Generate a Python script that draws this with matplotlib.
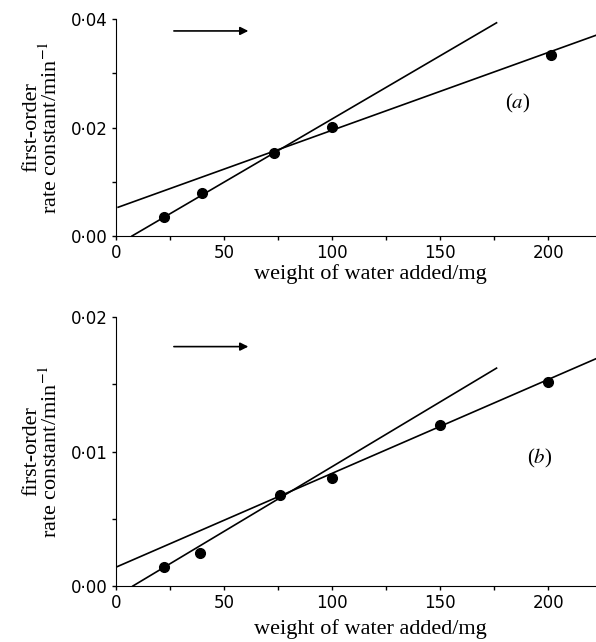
import matplotlib
matplotlib.use('Agg')
import matplotlib.pyplot as plt
from matplotlib.ticker import FixedLocator, FuncFormatter

# panel (a)
a_water = [22, 40, 73, 100, 201]
a_rate = [0.0035, 0.0079, 0.0153, 0.0201, 0.0334]
a_steep_x = [7.4, 176]
a_steep_y = [0.0, 0.0393]
a_flat_x = [1, 222]
a_flat_y = [0.0053, 0.0370]

# panel (b)
b_water = [22, 39, 76, 100, 150, 200]
b_rate = [0.0014, 0.00245, 0.0068, 0.0080, 0.0120, 0.0152]
b_steep_x = [7.8, 176]
b_steep_y = [0.0, 0.0162]
b_flat_x = [0, 222]
b_flat_y = [0.0014, 0.0169]

x_ticks = [0, 50, 100, 150, 200]
a_yticks = [0.00, 0.02, 0.04]
b_yticks = [0.00, 0.01, 0.02]

SERIF = 'Liberation Serif'
SANS = 'DejaVu Sans'


def dot_fmt(v, _):
    if v == 0:
        return '0\u00b700'
    s = f'{v:.2f}'.replace('.', '\u00b7')
    return s[:-1] if s.endswith('0') else s


def panel(ax, xs, ys, sx, sy, fx, fy, yticks, ymax, yminor, arrow_y, label, label_xy, xpad):
    ax.plot(sx, sy, color='black', lw=1.2)
    ax.plot(fx, fy, color='black', lw=1.2)
    ax.plot(xs, ys, 'o', color='black', ms=7)
    ax.set_xlim(0, 222)
    ax.set_ylim(0, ymax)
    ax.spines['top'].set_visible(False)
    ax.spines['right'].set_visible(False)
    ax.xaxis.set_major_locator(FixedLocator(x_ticks))
    ax.xaxis.set_minor_locator(FixedLocator([25, 75, 125, 175]))
    ax.yaxis.set_major_locator(FixedLocator(yticks))
    ax.yaxis.set_minor_locator(FixedLocator(yminor))
    ax.yaxis.set_major_formatter(FuncFormatter(dot_fmt))
    ax.tick_params(which='both', direction='out', length=3, width=1)
    ax.tick_params(labelsize=12, pad=3)
    for t in ax.get_xticklabels() + ax.get_yticklabels():
        t.set_family(SANS)
    ax.set_xlabel('weight of water added/mg', family=SERIF, fontsize=16, labelpad=xpad)
    ax.xaxis.label.set_x(0.53)
    ax.set_ylabel('first-order\nrate constant/min$^{-1}$', family=SERIF, fontsize=16,
                  linespacing=0.95, labelpad=6)
    ax.annotate('', xy=(62.5, arrow_y), xytext=(25.5, arrow_y),
                arrowprops=dict(arrowstyle='-|>', color='black', lw=1.2,
                                mutation_scale=12))
    ax.text(label_xy[0], label_xy[1], label, family=SERIF, fontsize=15,
            ha='center', va='center')


plt.rcParams['mathtext.fontset'] = 'stix'
fig = plt.figure(figsize=(5.96, 6.42), dpi=100)
ax1 = fig.add_axes([0.1946, 0.6324, 0.8054, 0.338])
ax2 = fig.add_axes([0.1946, 0.0872, 0.8054, 0.419])

panel(ax1, a_water, a_rate, a_steep_x, a_steep_y, a_flat_x, a_flat_y,
      a_yticks, 0.04, [0.01, 0.03], 0.0378, '($a$)', (186, 0.0245), 1)
panel(ax2, b_water, b_rate, b_steep_x, b_steep_y, b_flat_x, b_flat_y,
      b_yticks, 0.02, [0.005, 0.015], 0.0178, '($b$)', (196, 0.0095), 5)

fig.savefig('out.png', dpi=100)
